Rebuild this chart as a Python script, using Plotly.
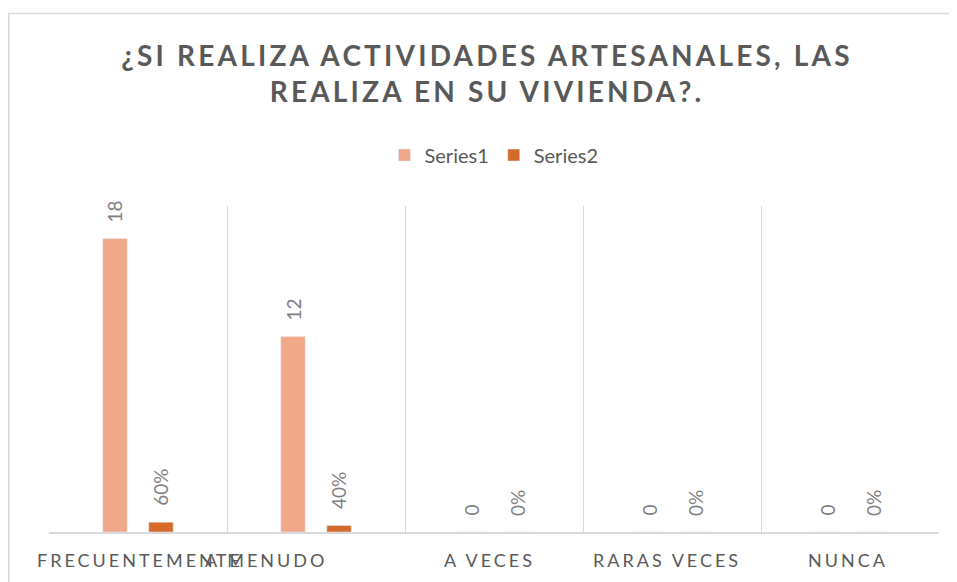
import plotly.graph_objects as go

categories = ["FRECUENTEMENTE", "A MENUDO", "A VECES", "RARAS VECES", "NUNCA"]
series1 = [18, 12, 0, 0, 0]
series2 = [0.6, 0.4, 0, 0, 0]
series1_labels = ["18", "12", "0", "0", "0"]
series2_labels = ["60%", "40%", "0%", "0%", "0%"]

title_text = "¿SI REALIZA ACTIVIDADES ARTESANALES, LAS<br>REALIZA EN SU VIVIENDA?."

C1 = "#F1A889"
C2 = "#D46B2A"
GRID = "#D9D9D9"
TXT = "#595959"
LBL = "#7F7F7F"
FONT = "Lato"

# pixel nudges of the category labels (the reference draws "A MENUDO" off-centre)
label_xshift = {"FRECUENTEMENTE": 2, "A MENUDO": -50, "A VECES": -5,
                "RARAS VECES": -5, "NUNCA": -2}

L, R, T, B = 41, 26, 198, 58
PW, PH = 957 - L - R, 582 - T - B


def spaced(s, px):
    return f'<span style="letter-spacing:{px}px">{s}</span>'


fig = go.Figure()
fig.add_trace(go.Bar(name="Series1", x=categories, y=series1, marker_color=C1))
fig.add_trace(go.Bar(name="Series2", x=categories, y=series2, marker_color=C2))

annotations = []
for cat, v, t in zip(categories, series1, series1_labels):
    annotations.append(dict(x=cat, y=v, text=t, textangle=-90, showarrow=False,
                            xanchor="center", yanchor="bottom", xshift=-23, yshift=14,
                            font=dict(family=FONT, size=19, color=LBL)))
for cat, v, t in zip(categories, series2, series2_labels):
    annotations.append(dict(x=cat, y=v, text=t, textangle=-90, showarrow=False,
                            xanchor="center", yanchor="bottom", xshift=23, yshift=14,
                            font=dict(family=FONT, size=19, color=LBL)))
for cat in categories:
    annotations.append(dict(x=cat, y=0, yref="paper", text=spaced(cat, 3), showarrow=False,
                            xanchor="center", yanchor="top", xshift=label_xshift[cat], yshift=-15,
                            font=dict(family=FONT, size=18, color=TXT)))

fig.update_layout(
    width=957, height=582,
    margin=dict(l=L, r=R, t=T, b=B, autoexpand=False),
    paper_bgcolor="white", plot_bgcolor="white",
    barmode="group", bargap=0.483, bargroupgap=0.47,
    title=dict(text=spaced(title_text, 3.2), x=479 / 957, xanchor="center",
               y=1 - 58 / 582, yanchor="top",
               font=dict(family=FONT, size=28, color=TXT, weight="bold")),
    legend=dict(orientation="h", x=0.5, xanchor="center", y=1 + 51 / PH, yanchor="middle",
                font=dict(family=FONT, size=20, color=TXT), traceorder="normal"),
    annotations=annotations,
    font=dict(family=FONT, color=TXT),
    shapes=[dict(type="rect", xref="paper", yref="paper",
                 x0=(0.75 - L) / PW, x1=(975 - L) / PW,
                 y0=-70 / PH, y1=1 + (T - 5.5) / PH,
                 line=dict(color=GRID, width=1.5), fillcolor="rgba(0,0,0,0)", layer="below")],
)
fig.update_xaxes(
    type="category", range=[-0.5, len(categories) - 0.5], autorange=False,
    showticklabels=False, automargin=False,
    tickson="boundaries", showgrid=True, gridcolor=GRID, gridwidth=1,
    showline=True, linecolor=GRID, linewidth=1.5, ticks="",
)
fig.update_yaxes(range=[0, 20], autorange=False, showgrid=False, showticklabels=False,
                 zeroline=False, showline=False, ticks="", automargin=False)

fig.write_html("out.html")
